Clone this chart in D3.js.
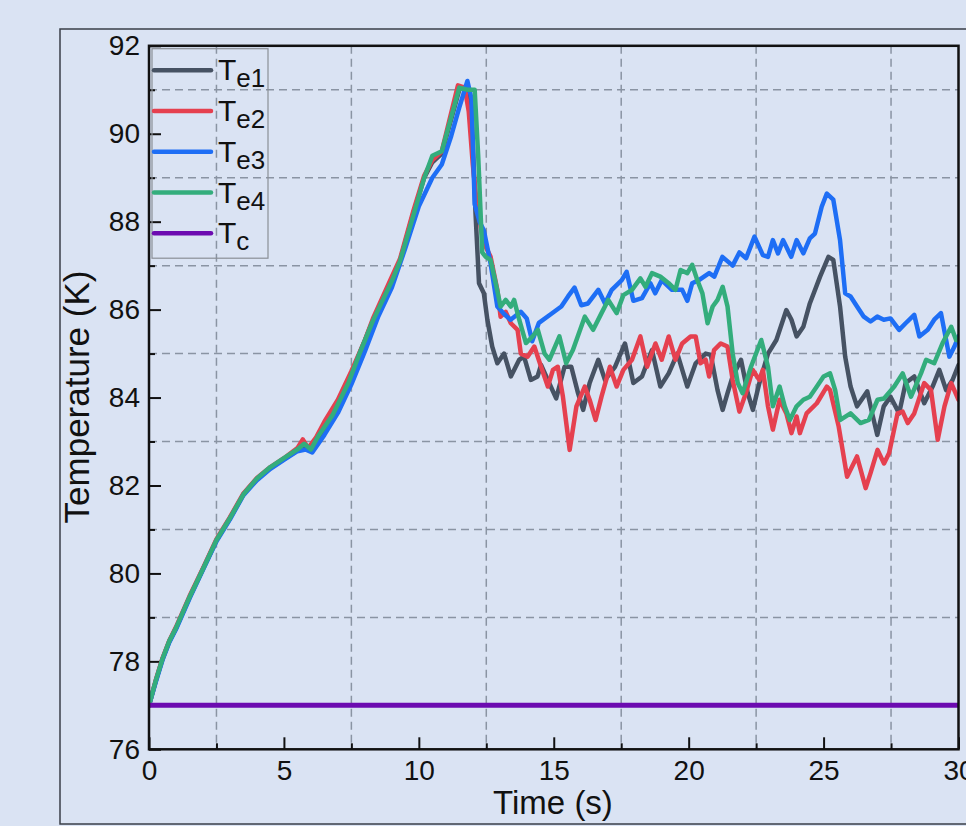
<!DOCTYPE html>
<html>
<head>
<meta charset="utf-8">
<script src="https://cdnjs.cloudflare.com/ajax/libs/d3/7.8.5/d3.min.js"></script>
<style>
  body { margin: 0; background: #dae3f3; }
  svg { display: block; font-family: "Liberation Sans", Arial, sans-serif; }
</style>
</head>
<body>
<div id="chart"></div>
<script>
// series data, [time (s), temperature (K)]
var te1 = [[0,77.0],[0.25,77.55],[0.5,78.05],[0.75,78.45],[1,78.75],[1.5,79.45],[2,80.1],[2.5,80.75],[3,81.25],[3.5,81.8],[4,82.15],[4.5,82.4],[5,82.6],[5.5,82.8],[5.85,82.85],[6.2,83.0],[6.8,83.6],[7.4,84.35],[7.8,85.0],[8.3,85.75],[9.0,86.7],[9.3,87.1],[9.8,88.2],[10.2,89.0],[10.5,89.35],[10.85,89.55],[11.5,91.0],[11.8,91.1],[11.95,90.6],[12.1,88.2],[12.23,86.6],[12.41,86.37],[12.54,85.77],[12.72,85.16],[12.91,84.78],[13.16,85.0],[13.41,84.48],[13.72,84.86],[13.9,84.93],[14.15,84.4],[14.4,84.48],[14.53,84.74],[14.78,84.4],[15.09,83.98],[15.4,84.7],[15.65,84.7],[15.9,84.1],[16.09,83.72],[16.33,84.33],[16.65,84.86],[16.9,84.4],[17.27,84.7],[17.64,85.23],[17.95,84.33],[18.27,84.48],[18.64,85.08],[18.95,84.25],[19.26,84.55],[19.58,85.0],[19.95,84.25],[20.26,84.78],[20.63,85.0],[20.82,84.97],[21.07,84.17],[21.26,83.72],[21.44,84.1],[21.63,84.48],[21.94,84.86],[22.19,84.1],[22.38,83.72],[22.62,84.33],[22.94,85.0],[23.25,85.31],[23.62,85.99],[23.81,85.77],[24.0,85.39],[24.25,85.61],[24.49,86.14],[24.87,86.75],[25.18,87.2],[25.36,87.13],[25.61,86.07],[25.8,84.93],[26.0,84.25],[26.24,83.8],[26.62,84.14],[26.8,83.64],[26.99,83.15],[27.23,83.8],[27.48,84.02],[27.8,83.64],[28.04,84.33],[28.36,84.48],[28.73,83.87],[29.04,84.25],[29.29,84.63],[29.54,84.17],[29.78,84.4],[30,84.74]];

var te2 = [[0,77.0],[0.25,77.57],[0.5,78.07],[0.75,78.47],[1,78.78],[1.5,79.48],[2,80.12],[2.5,80.78],[3,81.28],[3.5,81.82],[4,82.17],[4.5,82.42],[5,82.62],[5.5,82.85],[5.7,83.05],[5.9,82.85],[6.2,83.1],[6.5,83.45],[7.0,83.95],[7.5,84.6],[8.0,85.3],[8.3,85.8],[9.0,86.75],[9.3,87.15],[9.8,88.25],[10.2,89.05],[10.5,89.4],[10.85,89.6],[11.45,91.1],[11.7,91.05],[11.85,90.5],[12.0,89.3],[12.15,88.4],[12.35,87.7],[12.5,87.4],[12.66,87.2],[12.91,86.45],[13.03,85.84],[13.22,85.95],[13.41,85.69],[13.66,85.54],[13.78,85.0],[14.03,84.93],[14.28,85.16],[14.53,84.7],[14.78,84.25],[14.97,84.63],[15.15,84.7],[15.34,84.02],[15.59,82.81],[15.84,83.8],[16.15,84.25],[16.33,83.95],[16.55,83.49],[16.77,84.02],[17.08,84.7],[17.33,84.25],[17.58,84.63],[17.9,84.86],[18.21,85.39],[18.46,84.7],[18.77,85.23],[19.0,84.86],[19.26,85.39],[19.51,84.86],[19.76,85.23],[20.07,85.39],[20.26,85.39],[20.44,84.78],[20.63,84.86],[20.76,84.48],[20.94,85.08],[21.19,85.23],[21.44,85.16],[21.63,84.4],[21.88,83.68],[22.12,84.1],[22.37,84.63],[22.62,84.4],[22.75,84.63],[22.94,83.8],[23.12,83.27],[23.37,83.95],[23.62,83.64],[23.81,83.19],[24.0,83.57],[24.12,83.19],[24.37,83.64],[24.75,83.87],[25.12,84.25],[25.24,84.17],[25.56,83.34],[25.87,82.2],[26.24,82.66],[26.56,81.94],[26.74,82.28],[27.0,82.81],[27.24,82.5],[27.43,82.74],[27.74,83.64],[27.93,83.68],[28.12,83.42],[28.36,83.64],[28.73,84.33],[28.98,84.17],[29.23,83.04],[29.48,83.8],[29.73,84.33],[30,83.95]];

var te3 = [[0,77.0],[0.25,77.53],[0.5,78.03],[0.75,78.43],[1,78.73],[1.5,79.43],[2,80.08],[2.5,80.73],[3,81.23],[3.5,81.78],[4,82.12],[4.5,82.38],[5,82.58],[5.5,82.78],[5.8,82.82],[6.05,82.75],[6.5,83.15],[7.0,83.65],[7.5,84.3],[8.0,85.05],[8.5,85.85],[9.0,86.5],[9.5,87.4],[10.0,88.35],[10.5,89.0],[10.85,89.3],[11.2,89.95],[11.5,90.6],[11.8,91.2],[11.95,90.8],[12.07,88.4],[12.25,88.0],[12.41,87.8],[12.66,87.05],[12.91,86.07],[13.16,85.9],[13.4,85.77],[13.78,85.95],[14.0,85.8],[14.2,85.28],[14.45,85.7],[14.9,85.9],[15.28,86.07],[15.53,86.3],[15.77,86.5],[16.02,86.1],[16.27,86.14],[16.65,86.45],[16.9,86.14],[17.15,86.45],[17.52,86.67],[17.7,86.86],[17.95,86.2],[18.27,86.26],[18.58,86.6],[18.76,86.37],[19.0,86.67],[19.38,86.45],[19.76,86.45],[19.95,86.2],[20.13,86.6],[20.38,86.67],[20.76,86.83],[20.95,86.75],[21.25,87.2],[21.63,87.0],[21.88,87.3],[22.13,87.17],[22.44,87.66],[22.75,87.24],[22.94,87.2],[23.12,87.58],[23.31,87.28],[23.5,87.58],[23.8,87.2],[24.0,87.58],[24.25,87.28],[24.49,87.62],[24.68,87.73],[24.93,88.34],[25.12,88.64],[25.36,88.5],[25.61,87.58],[25.8,86.37],[26.0,86.3],[26.24,86.07],[26.49,85.84],[26.74,85.73],[26.99,85.84],[27.23,85.77],[27.48,85.8],[27.8,85.54],[28.04,85.69],[28.36,85.88],[28.55,85.39],[28.86,85.54],[29.1,85.77],[29.35,85.92],[29.66,84.93],[29.85,85.16],[30,85.39]];

var te4 = [[0,77.0],[0.25,77.56],[0.5,78.06],[0.75,78.46],[1,78.76],[1.5,79.46],[2,80.1],[2.5,80.76],[3,81.26],[3.5,81.8],[4,82.16],[4.5,82.42],[5,82.62],[5.5,82.82],[5.75,82.95],[6.0,82.82],[6.3,83.15],[6.8,83.6],[7.4,84.35],[7.8,85.0],[8.3,85.75],[9.0,86.65],[9.3,87.1],[9.8,88.15],[10.2,89.0],[10.5,89.5],[10.85,89.6],[11.5,91.05],[11.8,91.0],[12.07,91.0],[12.2,89.5],[12.35,87.3],[12.48,87.2],[12.66,87.13],[12.85,86.6],[13.03,86.07],[13.22,86.22],[13.41,86.07],[13.53,86.22],[13.72,85.77],[13.97,85.24],[14.22,85.39],[14.41,85.54],[14.66,85.0],[14.84,84.86],[15.21,85.39],[15.46,84.78],[15.71,85.08],[16.15,85.84],[16.46,85.54],[16.77,85.92],[17.02,86.22],[17.33,85.92],[17.58,86.33],[17.9,86.45],[18.21,86.71],[18.4,86.52],[18.64,86.83],[18.95,86.75],[19.26,86.6],[19.51,86.45],[19.7,86.9],[19.95,86.83],[20.13,87.02],[20.32,86.67],[20.51,86.37],[20.7,85.69],[20.89,86.07],[21.07,86.22],[21.26,86.52],[21.44,86.07],[21.63,85.0],[21.82,84.33],[22.0,84.1],[22.31,84.7],[22.69,85.31],[22.94,84.7],[23.12,83.8],[23.37,84.25],[23.56,83.8],[23.75,83.49],[24.0,83.8],[24.25,83.95],[24.49,84.02],[24.75,84.25],[25.0,84.48],[25.24,84.55],[25.43,84.17],[25.62,83.49],[26.0,83.64],[26.37,83.42],[26.68,83.49],[27.0,83.95],[27.24,83.98],[27.62,84.25],[27.93,84.55],[28.24,84.02],[28.61,84.55],[28.8,84.86],[29.1,84.78],[29.41,85.24],[29.73,85.61],[29.91,85.31],[30,85.3]];

var tc = [[0,77],[30,77]];

// legend labels: main letter + subscript
var seriesNames = [['T','e1'],['T','e2'],['T','e3'],['T','e4'],['T','c']];
var seriesColors = ['#465263','#e5404f','#1e6ef5','#33ad7c','#6c0bb0'];

var xTicks = [0, 5, 10, 15, 20, 25, 30];
var xMinor = [2.5, 7.5, 12.5, 17.5, 22.5, 27.5];
var yTicks = [76, 78, 80, 82, 84, 86, 88, 90, 92];
var yMinor = [77, 79, 81, 83, 85, 87, 89, 91];

var W = 966, H = 826;
// plot box (named to avoid window.top)
var pL = 149, pR = 958.5, pT = 45.8, pB = 749.3;

var svg = d3.select('#chart').append('svg')
  .attr('width', W)
  .attr('height', H);

svg.append('rect')
  .attr('width', W).attr('height', H)
  .attr('fill', '#dae3f3');

// outer frame, runs off the right edge
svg.append('rect')
  .attr('x', 60).attr('y', 29)
  .attr('width', 1000).attr('height', 795)
  .attr('fill', 'none')
  .attr('stroke', '#3a3f48')
  .attr('stroke-width', 1.5);

var x = d3.scaleLinear().domain([0, 30]).range([pL, pR]);
var y = d3.scaleLinear().domain([76, 92]).range([pB, pT]);

// dashed grid on the minor positions
var grid = svg.append('g')
  .attr('stroke', '#8a94a3')
  .attr('stroke-width', 1.5)
  .attr('stroke-dasharray', '8,5');
grid.selectAll('.gx').data(xMinor).enter().append('line')
  .attr('x1', d => x(d)).attr('x2', d => x(d))
  .attr('y1', pT).attr('y2', pB);
grid.selectAll('.gy').data(yMinor).enter().append('line')
  .attr('x1', pL).attr('x2', pR)
  .attr('y1', d => y(d)).attr('y2', d => y(d));

// axes with inward ticks
svg.append('g')
  .attr('transform', 'translate(0,' + pB + ')')
  .call(d3.axisBottom(x).tickValues(xTicks).tickSize(-12).tickPadding(11).tickSizeOuter(0));
svg.append('g')
  .attr('transform', 'translate(0,' + pB + ')')
  .call(d3.axisBottom(x).tickValues(xMinor).tickSize(-6).tickFormat('').tickSizeOuter(0));
svg.append('g')
  .attr('transform', 'translate(' + pL + ',0)')
  .call(d3.axisLeft(y).tickValues(yTicks).tickSize(-12).tickPadding(9).tickSizeOuter(0));
svg.append('g')
  .attr('transform', 'translate(' + pL + ',0)')
  .call(d3.axisLeft(y).tickValues(yMinor).tickSize(-6).tickFormat('').tickSizeOuter(0));

svg.selectAll('.domain').remove();
svg.selectAll('.tick line').attr('stroke', '#111').attr('stroke-width', 2);
svg.selectAll('.tick text')
  .attr('font-size', 28)
  .attr('fill', '#111')
  .attr('font-family', '"Liberation Sans", Arial, sans-serif');

// clip lines to the plot area
svg.append('clipPath').attr('id', 'plotclip')
  .append('rect')
  .attr('x', pL).attr('y', pT)
  .attr('width', pR - pL).attr('height', pB - pT);

var line = d3.line()
  .x(d => x(d[0]))
  .y(d => y(d[1]));

var allSeries = [te1, te2, te3, te4, tc];
svg.append('g')
  .attr('clip-path', 'url(#plotclip)')
  .selectAll('path')
  .data(allSeries)
  .enter()
  .append('path')
  .attr('d', line)
  .attr('fill', 'none')
  .attr('stroke', (d, i) => seriesColors[i])
  .attr('stroke-width', (d, i) => i === 4 ? 5 : 4.5)
  .attr('stroke-linejoin', 'round')
  .attr('stroke-linecap', 'round');

// plot frame
svg.append('rect')
  .attr('x', pL).attr('y', pT)
  .attr('width', pR - pL).attr('height', pB - pT)
  .attr('fill', 'none')
  .attr('stroke', '#111')
  .attr('stroke-width', 2.5);

// axis titles
svg.append('text')
  .attr('x', 553).attr('y', 814)
  .attr('text-anchor', 'middle')
  .attr('font-size', 33)
  .attr('fill', '#111')
  .text('Time (s)');

svg.append('text')
  .attr('transform', 'translate(89,397) rotate(-90)')
  .attr('text-anchor', 'middle')
  .attr('font-size', 35)
  .attr('fill', '#111')
  .text('Temperature (K)');

// legend
var legendG = svg.append('g');
legendG.append('rect')
  .attr('x', 152).attr('y', 48.7)
  .attr('width', 116).attr('height', 209.5)
  .attr('fill', 'none')
  .attr('stroke', '#8a8f97')
  .attr('stroke-width', 1.2);

var legend = legendG.selectAll('.leg')
  .data(seriesNames)
  .enter()
  .append('g')
  .attr('transform', (d, i) => 'translate(0,' + (70.3 + i * 40.75) + ')');
legend.append('line')
  .attr('x1', 154).attr('x2', 211)
  .attr('stroke', (d, i) => seriesColors[i])
  .attr('stroke-width', 4.5)
  .attr('stroke-linecap', 'round');
var lt = legend.append('text')
  .attr('x', 218).attr('y', 10)
  .attr('fill', '#111')
  .attr('font-size', 30);
lt.append('tspan').text(d => d[0]);
lt.append('tspan')
  .attr('font-size', 26)
  .attr('dy', 7)
  .text(d => d[1]);
</script>
</body>
</html>
